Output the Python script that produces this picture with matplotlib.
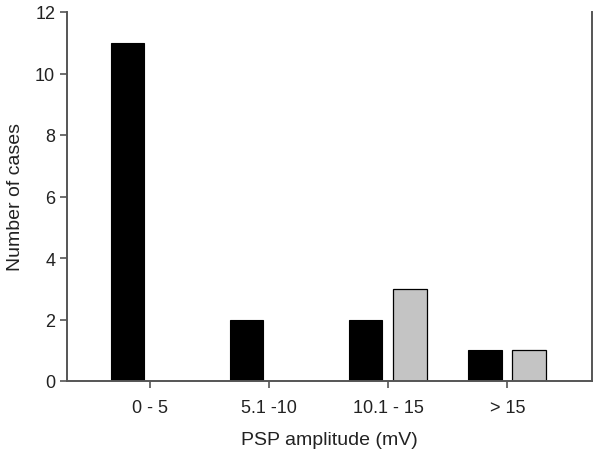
import matplotlib.pyplot as plt
import numpy as np

plt.rcParams['font.family'] = ['Liberation Sans', 'DejaVu Sans']

categories = ['0 - 5', '5.1 -10', '10.1 - 15', '> 15']
black_counts = [11, 2, 2, 1]
gray_counts = [0, 0, 3, 1]

x = np.arange(len(categories))
w = 0.28

fig = plt.figure(figsize=(6, 4.56), dpi=100)
ax = fig.add_axes([67 / 600, 1 - 382 / 456, 525 / 600, 369 / 456])

ax.bar(x - 0.19, black_counts, w, color='black', edgecolor='black', linewidth=0.8)
gx = [xi + 0.18 for xi, v in zip(x, gray_counts) if v > 0]
gv = [v for v in gray_counts if v > 0]
ax.bar(gx, gv, w, color='#c4c4c4', edgecolor='black', linewidth=0.9)

ax.set_xlim(-0.70, 3.71)
ax.set_ylim(0, 12)
ax.set_yticks(range(0, 13, 2))
ax.set_xticks(x)
ax.set_xticklabels(categories)

for s in ['left', 'bottom', 'right']:
    ax.spines[s].set_color('#555555')
    ax.spines[s].set_linewidth(1.4)
ax.spines['top'].set_visible(False)
ax.tick_params(axis='both', colors='#555555', labelcolor='#222222', labelsize=13, length=5, width=1.2)
ax.tick_params(axis='x', pad=8)

ax.set_xlabel('PSP amplitude (mV)', fontsize=14, color='#222222', labelpad=11)
ax.set_ylabel('Number of cases', fontsize=14, color='#222222', labelpad=8)

fig.savefig('out.png', dpi=100)
